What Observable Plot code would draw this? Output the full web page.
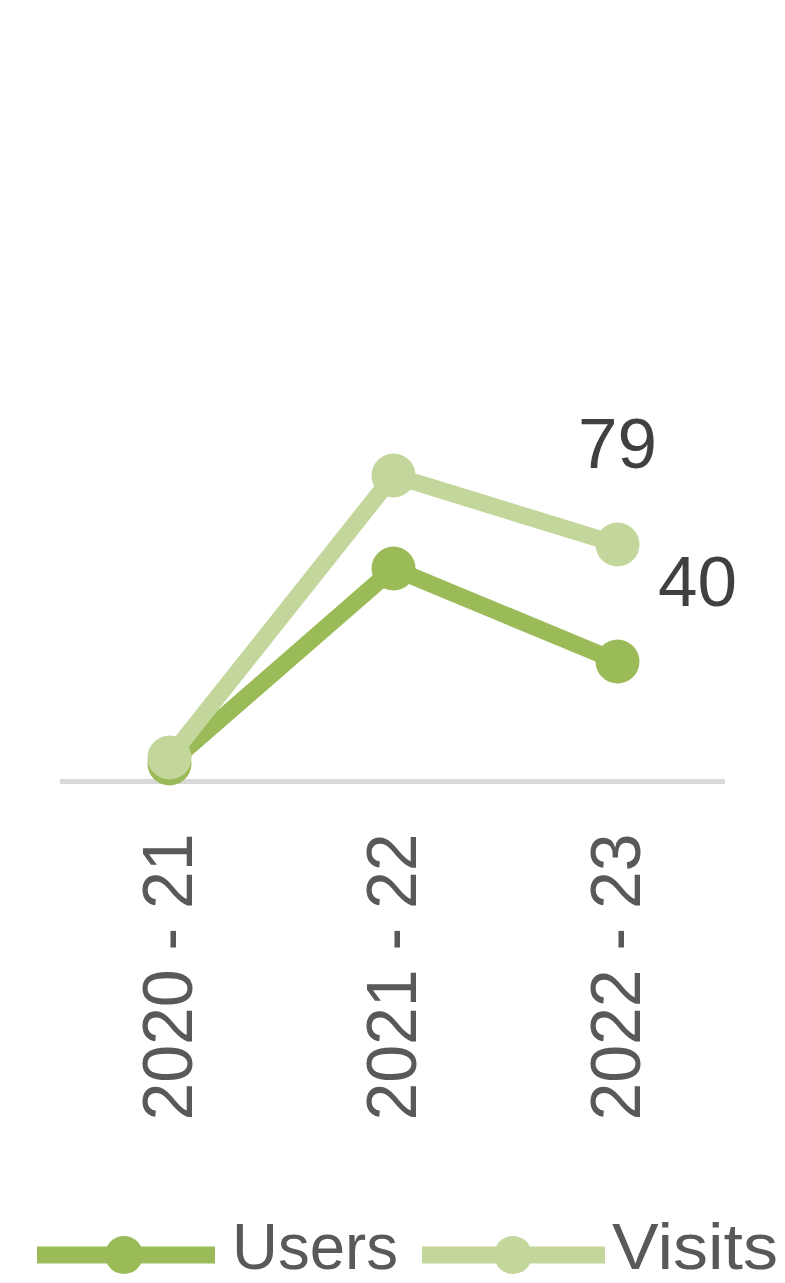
<!DOCTYPE html>
<html>
<head>
<meta charset="utf-8">
<script src="https://cdn.jsdelivr.net/npm/d3@7"></script>
<script src="https://cdn.jsdelivr.net/npm/@observablehq/plot@0.6"></script>
<style>
  html, body { margin: 0; padding: 0; background: #ffffff; }
  #chart { width: 785px; }
  svg { display: block; }
</style>
</head>
<body>
<div id="chart"></div>
<script>
const categories = ["2020 - 21", "2021 - 22", "2022 - 23"];
const seriesNames = ["Users", "Visits"];
const seriesColors = ["#9BBB59", "#C3D69B"];
const users = [6, 71, 40];
const visits = [8, 102, 79];

const FONT = "'Liberation Sans', Arial, sans-serif";

const usersData = categories.map((c, i) => ({category: c, series: "Users", value: users[i]}));
const visitsData = categories.map((c, i) => ({category: c, series: "Visits", value: visits[i]}));

const plot = Plot.plot({
  width: 785,
  height: 1160,
  marginLeft: 60,
  marginRight: 60,
  marginTop: 31,
  marginBottom: 379,
  style: {fontFamily: FONT, background: "#ffffff", overflow: "visible"},
  x: {type: "point", domain: categories, padding: 0.48, label: null},
  y: {domain: [0, 250], axis: null},
  color: {domain: seriesNames, range: seriesColors},
  marks: [
    Plot.ruleY([0], {stroke: "#D9D9D9", strokeWidth: 5}),
    Plot.axisX({tickSize: 0, tickPadding: 52, tickRotate: -90, fontSize: 70, fill: "#595959", label: null}),
    Plot.lineY(usersData, {x: "category", y: "value", stroke: "series", strokeWidth: 17, strokeLinejoin: "round"}),
    Plot.dot(usersData, {x: "category", y: "value", fill: "series", r: 22}),
    Plot.lineY(visitsData, {x: "category", y: "value", stroke: "series", strokeWidth: 17, strokeLinejoin: "round"}),
    Plot.dot(visitsData, {x: "category", y: "value", fill: "series", r: 22}),
    Plot.text(usersData.slice(-1), {x: "category", y: "value", text: d => String(d.value), dx: 80, dy: -78, fontSize: 71, fill: "#404040", textAnchor: "middle"}),
    Plot.text(visitsData.slice(-1), {x: "category", y: "value", text: d => String(d.value), dx: 0, dy: -99, fontSize: 71, fill: "#404040", textAnchor: "middle"})
  ]
});

d3.select(plot).selectAll('g[aria-label="x-axis tick label"] text')
  .attr("textLength", 287)
  .attr("lengthAdjust", "spacingAndGlyphs");

document.getElementById("chart").appendChild(plot);

// Legend below the plot
const legend = d3.create("svg")
  .attr("width", 785)
  .attr("height", 123)
  .attr("viewBox", "0 0 785 123")
  .style("font-family", FONT);

const legendItems = [
  {name: seriesNames[0], color: seriesColors[0], x1: 37, x2: 215, cx: 124, tx: 232},
  {name: seriesNames[1], color: seriesColors[1], x1: 422, x2: 605, cx: 513, tx: 612}
];
const g = legend.selectAll("g").data(legendItems).join("g");
g.append("line")
  .attr("x1", d => d.x1).attr("x2", d => d.x2)
  .attr("y1", 95).attr("y2", 95)
  .attr("stroke", d => d.color).attr("stroke-width", 17);
g.append("circle")
  .attr("cx", d => d.cx).attr("cy", 95).attr("r", 19)
  .attr("fill", d => d.color);
g.append("text")
  .attr("x", d => d.tx).attr("y", 109)
  .attr("font-size", 64)
  .attr("fill", "#595959")
  .attr("textLength", 166)
  .attr("lengthAdjust", "spacingAndGlyphs")
  .text(d => d.name);

document.getElementById("chart").appendChild(legend.node());
</script>
</body>
</html>
